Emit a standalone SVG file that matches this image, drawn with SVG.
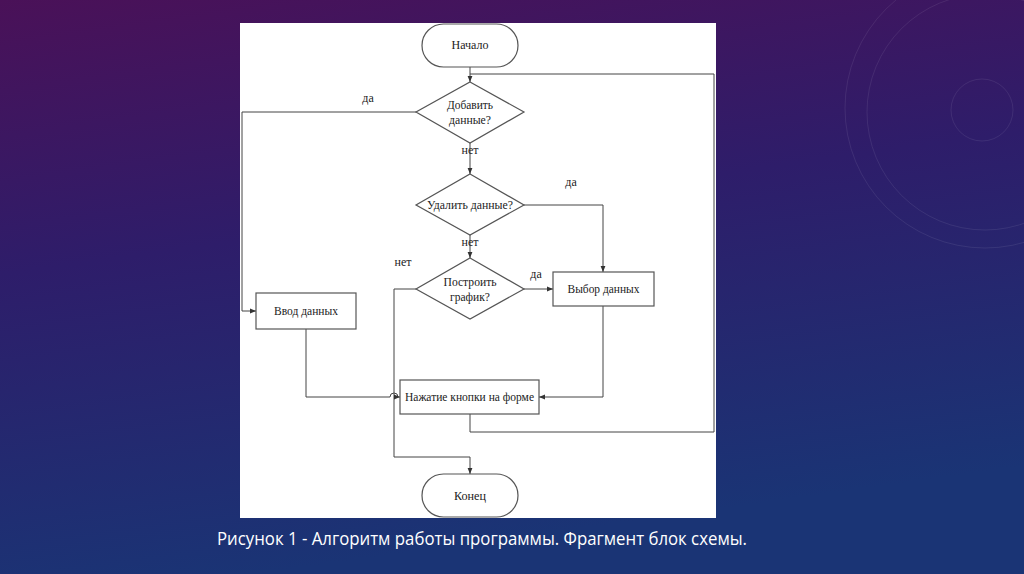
<svg xmlns="http://www.w3.org/2000/svg" width="1024" height="574" viewBox="0 0 1024 574">
<defs>
<linearGradient id="bg" x1="0" y1="0" x2="0.25" y2="1">
<stop offset="0" stop-color="#4a1158"/>
<stop offset="0.45" stop-color="#2e1d6a"/>
<stop offset="1" stop-color="#1a3475"/>
</linearGradient>
<marker id="arr" viewBox="0 0 10 10" refX="10" refY="5" markerWidth="6" markerHeight="6" orient="auto" markerUnits="userSpaceOnUse">
<path d="M0,1 L10,5 L0,9 Z" fill="#333"/>
</marker>
<style>
.shape{fill:#fff;stroke:#555;stroke-width:1.2}
.t{font-family:"Liberation Serif","Times New Roman",serif;font-size:12.5px;fill:#222;text-anchor:middle;dominant-baseline:central}
.lbl{font-family:"Liberation Serif","Times New Roman",serif;font-size:12px;fill:#222;text-anchor:middle;dominant-baseline:central}
.c{fill:none;stroke:#444;stroke-width:1}
.deco{fill:none;stroke:#ffffff;stroke-opacity:0.08;stroke-width:1}
</style>
</defs>
<rect x="0" y="0" width="1024" height="574" fill="url(#bg)"/>
<g id="decor">
<circle class="deco" cx="985" cy="108" r="140"/>
<circle class="deco" cx="985" cy="112" r="118"/>
<circle class="deco" cx="982" cy="110" r="31"/>
</g>
<rect id="panel" x="240" y="23" width="476" height="495" fill="#fff"/>
<g id="connectors">
<path class="c" d="M470,67 V82" marker-end="url(#arr)"/>
<path class="c" d="M470,414 V432 H714 V74 H470"/>
<path class="c" d="M416,112 H242 V311 H256" marker-end="url(#arr)"/>
<path class="c" d="M470,143 V174" marker-end="url(#arr)"/>
<path class="c" d="M524,205 H603 V272" marker-end="url(#arr)"/>
<path class="c" d="M470,235 V258" marker-end="url(#arr)"/>
<path class="c" d="M524,289 H553" marker-end="url(#arr)"/>
<path class="c" d="M416,289 H394 V457 H470 V474" marker-end="url(#arr)"/>
<path class="c" d="M306,329 V397 H390 A4,4 0 0 1 398,397 H400" marker-end="url(#arr)"/>
<path class="c" d="M603,306 V397 H539" marker-end="url(#arr)"/>
</g>
<g id="labels">
<text class="lbl" x="368" y="98">да</text>
<text class="lbl" x="470" y="150">нет</text>
<text class="lbl" x="571" y="182">да</text>
<text class="lbl" x="470" y="242">нет</text>
<text class="lbl" x="403" y="262">нет</text>
<text class="lbl" x="536" y="274">да</text>
</g>
<g id="start">
<rect class="shape" x="422" y="24" width="96" height="43" rx="21.5"/>
<text class="t" x="470" y="45" textLength="37" lengthAdjust="spacingAndGlyphs">Начало</text>
</g>
<g id="add">
<polygon class="shape" points="470,82 524,112 470,143 416,112"/>
<text class="t" x="470" y="105" textLength="46" lengthAdjust="spacingAndGlyphs">Добавить</text>
<text class="t" x="470" y="120" textLength="42" lengthAdjust="spacingAndGlyphs">данные?</text>
</g>
<g id="delete">
<polygon class="shape" points="470,174 524,205 470,235 416,205"/>
<text class="t" x="470" y="205" textLength="86" lengthAdjust="spacingAndGlyphs">Удалить данные?</text>
</g>
<g id="plot">
<polygon class="shape" points="470,258 524,289 470,319 416,289"/>
<text class="t" x="470" y="282" textLength="53" lengthAdjust="spacingAndGlyphs">Построить</text>
<text class="t" x="470" y="297" textLength="40" lengthAdjust="spacingAndGlyphs">график?</text>
</g>
<g id="input">
<rect class="shape" x="256" y="293" width="100" height="36"/>
<text class="t" x="306" y="311" textLength="64" lengthAdjust="spacingAndGlyphs">Ввод данных</text>
</g>
<g id="select">
<rect class="shape" x="553" y="272" width="101" height="34"/>
<text class="t" x="603.5" y="289" textLength="72" lengthAdjust="spacingAndGlyphs">Выбор данных</text>
</g>
<g id="press">
<rect class="shape" x="400" y="380" width="139" height="34"/>
<text class="t" x="469.5" y="397" textLength="129" lengthAdjust="spacingAndGlyphs">Нажатие кнопки на форме</text>
</g>
<g id="end">
<rect class="shape" x="422" y="474" width="96" height="43" rx="21.5"/>
<text class="t" x="470" y="496" textLength="32" lengthAdjust="spacingAndGlyphs">Конец</text>
</g>
<text id="caption" x="482" y="538" font-family="'Open Sans','Noto Sans',sans-serif" font-size="18" fill="#ffffff" text-anchor="middle" dominant-baseline="central" textLength="530" lengthAdjust="spacingAndGlyphs">Рисунок 1 - Алгоритм работы программы. Фрагмент блок схемы.</text>
</svg>
